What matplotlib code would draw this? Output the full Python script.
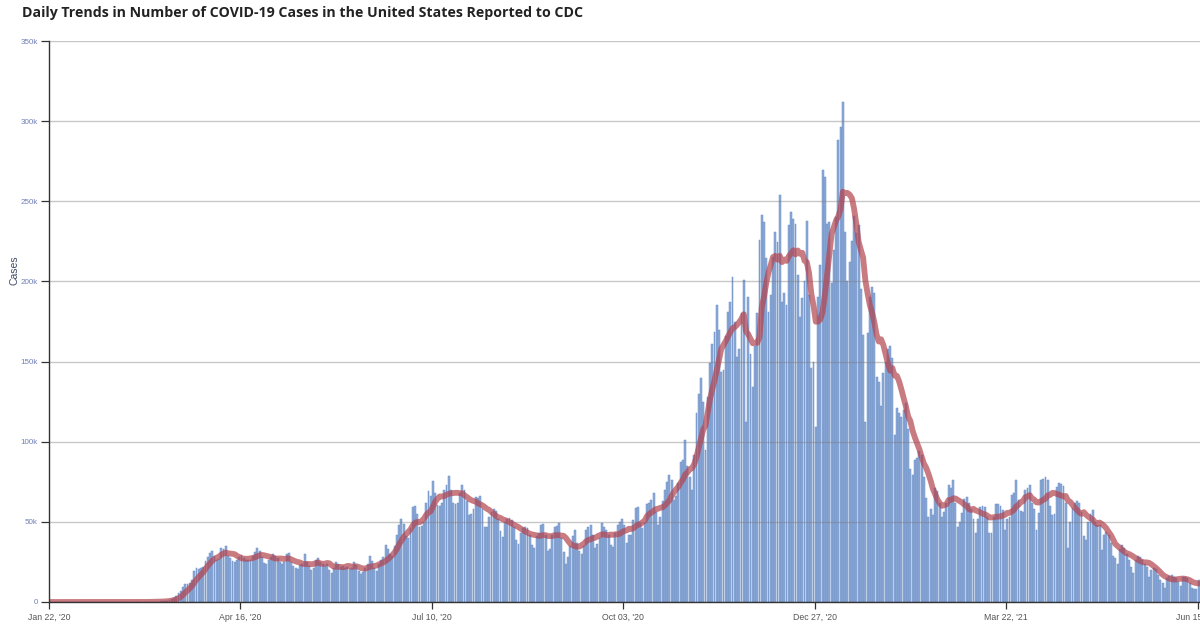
import matplotlib
matplotlib.use("Agg")
import matplotlib.pyplot as plt
import numpy as np
import pandas as pd

start_date = "2020-01-22"

# daily cases, thousands (rows of 7 days, Wed..Tue)
early_2020 = [0.0]*35 + [
    0.0, 0.0, 0.0, 0.0, 0.0, 0.0, 0.1,
    0.1, 0.1, 0.2, 0.1, 0.1, 0.2, 0.3,
    0.4, 0.6, 0.8, 0.9, 1.2, 1.8, 2.6,
]
wave1_2020 = [
    3.5, 5.5, 7.0, 9.5, 11.5, 11.0, 11.8,
    14.0, 19.6, 21.0, 20.5, 21.5, 22.0, 25.5,
    28.0, 30.8, 32.0, 28.7, 26.5, 27.0, 33.5,
    33.0, 35.0, 29.0, 27.5, 25.5, 25.0, 26.5,
    28.0, 29.5, 27.5, 26.5, 26.0, 26.5, 28.5,
    31.0, 33.5, 32.0, 28.0, 24.5, 24.0, 26.5,
    28.0, 30.0, 29.0, 27.5, 25.0, 23.5, 25.0,
    30.0, 30.6, 25.0, 22.5, 21.0, 20.5, 23.0,
    24.0, 30.0, 25.0, 22.5, 20.0, 21.5, 26.5,
    27.5, 25.0, 24.0, 22.5, 23.5, 20.0, 18.0,
    21.0, 25.0, 23.5, 22.0, 22.5, 21.5, 22.0,
]
summer_2020 = [
    20.5, 21.5, 25.0, 23.0, 19.5, 17.5, 19.0,
    21.5, 24.0, 29.0, 25.5, 21.0, 19.5, 23.5,
    26.5, 28.0, 35.6, 33.0, 30.0, 29.0, 35.0,
    41.8, 48.0, 51.5, 48.5, 41.0, 40.0, 46.0,
    59.0, 60.0, 55.0, 47.0, 47.5, 50.0, 62.0,
    69.0, 66.0, 75.5, 68.0, 60.5, 60.0, 62.0,
    70.0, 73.0, 78.8, 70.0, 62.0, 61.0, 62.0,
    68.0, 73.0, 70.0, 63.0, 54.0, 55.0, 58.0,
    65.7, 65.0, 66.0, 58.0, 47.0, 47.0, 53.0,
    56.0, 58.0, 57.0, 52.0, 44.0, 40.7, 50.0,
    52.0, 52.5, 51.0, 47.0, 38.7, 36.0, 43.0,
    46.0, 46.5, 46.0, 42.0, 35.6, 34.0, 41.0,
    43.0, 48.0, 48.5, 42.0, 32.0, 33.0, 41.6,
    47.0, 47.5, 49.0, 40.0, 31.0, 24.0, 28.0,
    35.0, 41.0, 45.0, 37.0, 32.0, 30.0, 35.0,
    45.0, 47.0, 48.0, 42.0, 33.5, 36.0, 40.0,
    49.0, 47.0, 45.0, 42.0, 35.6, 34.5, 43.0,
    48.0, 50.0, 52.0, 48.0, 37.0, 42.0, 42.0,
]
fall_winter = [
    51.0, 58.6, 59.5, 49.0, 46.0, 49.0, 61.0,
    62.0, 63.6, 68.0, 56.0, 48.0, 53.0, 63.0,
    70.0, 75.0, 79.0, 76.0, 63.6, 66.0, 74.0,
    87.5, 88.6, 101.0, 85.0, 78.0, 70.0, 92.0,
    118.0, 130.0, 140.0, 125.0, 95.0, 128.0, 149.0,
    161.0, 168.6, 185.0, 170.0, 143.7, 145.0, 166.0,
    181.0, 187.0, 202.6, 175.0, 153.0, 158.0, 180.0,
    201.0, 112.0, 190.0, 155.0, 134.0, 160.0, 180.0,
    226.0, 241.5, 237.0, 214.6, 181.0, 191.5, 215.0,
    231.0, 224.8, 254.0, 187.0, 192.7, 185.0, 235.0,
    243.5, 239.0, 236.0, 204.0, 178.0, 189.5, 200.0,
    238.0, 191.5, 146.0, 150.0, 109.0, 190.0, 210.0,
    269.5, 265.0, 236.0, 237.0, 199.0, 219.6, 240.0,
    288.0, 296.5, 311.7, 231.0, 200.0, 212.0, 225.0,
    241.0, 230.0, 235.0, 195.0, 166.6, 112.0, 168.0,
    190.0, 196.7, 193.0, 140.5, 137.0, 122.0, 142.7,
    150.0, 158.0, 160.0, 152.0, 104.0, 121.0, 118.0,
    115.6, 120.0, 124.0, 108.0, 83.0, 79.0, 88.6,
]
spring_2021 = [
    90.0, 94.0, 92.0, 78.0, 64.7, 53.0, 58.0,
    54.0, 71.0, 69.0, 62.0, 53.0, 56.0, 61.6,
    73.0, 71.0, 76.0, 61.6, 47.0, 50.0, 55.3,
    64.0, 65.7, 62.0, 58.0, 52.0, 42.8, 52.0,
    59.0, 60.0, 59.5, 53.0, 42.8, 42.8, 53.0,
    61.0, 61.0, 60.0, 57.4, 45.0, 52.0, 53.0,
    66.7, 68.0, 76.0, 63.6, 57.0, 56.0, 70.0,
    71.0, 73.0, 62.0, 58.0, 45.0, 55.3, 76.0,
    77.0, 78.0, 76.0, 60.0, 54.0, 55.0, 72.0,
    74.0, 73.5, 72.5, 62.0, 33.5, 50.0, 58.4,
    62.0, 63.0, 62.0, 56.0, 41.0, 38.7, 50.0,
    55.0, 57.4, 50.0, 48.0, 48.0, 32.4, 42.0,
    43.8, 42.0, 36.6, 29.0, 27.3, 24.0, 33.0,
    35.6, 34.0, 30.0, 26.0, 22.0, 18.0, 26.0,
    29.0, 28.0, 26.0, 24.0, 22.0, 15.8, 20.0,
    21.0, 20.5, 16.8, 14.0, 11.6, 8.5, 15.0,
    16.5, 17.0, 15.5, 14.8, 12.7, 10.0, 15.8,
    15.5, 14.8, 12.0, 8.5, 8.0, 8.3, 13.7,
]

y_ticks = [0, 50000, 100000, 150000, 200000, 250000, 300000, 350000]
y_tick_labels = ["0", "50k", "100k", "150k", "200k", "250k", "300k", "350k"]
x_tick_step = 85

title = "Daily Trends in Number of COVID-19 Cases in the United States Reported to CDC"

cases = np.array(early_2020 + wave1_2020 + summer_2020 + fall_winter + spring_2021) * 1000
dates = pd.date_range(start_date, periods=len(cases), freq="D")
series = pd.Series(cases, index=dates)
avg7 = series.rolling(7, min_periods=1).mean()

W, H = 1200, 630
fig = plt.figure(figsize=(W / 100, H / 100), dpi=100)
left_px, right_px, top_px, bottom_px = 49, 1200, 41, 602
ax = fig.add_axes([left_px / W, 1 - bottom_px / H, (right_px - left_px) / W, (bottom_px - top_px) / H])

x = np.arange(len(cases))
ax.bar(x + 0.5, cases, width=0.84, color="#8eabd6", edgecolor="#6a8dc6", linewidth=0.35, zorder=2)
ax.plot(x + 0.5, avg7.values, color="#b3434d", alpha=0.7, linewidth=4.2,
        solid_capstyle="round", solid_joinstyle="round", zorder=4)

ax.set_xlim(0, (right_px - left_px) / 2.252)
ax.set_ylim(0, 350000)

ax.set_yticks(y_ticks)
ax.set_yticklabels(y_tick_labels, fontsize=5.8, color="#6f7fb8", family="Liberation Sans")
ax.grid(axis="y", color="#7a7a7a", alpha=0.42, linewidth=1.0, zorder=3)
ax.set_axisbelow(False)

xt = np.arange(0, len(cases), x_tick_step)
ax.set_xticks(xt)
ax.set_xticklabels([dates[i].strftime("%b %d, '%y") for i in xt], fontsize=6.3,
                   color="#555555", family="Liberation Sans")
ax.tick_params(axis="y", length=6, width=0.9, color="#333333", pad=2)
ax.tick_params(axis="x", length=5, width=0.9, color="#333333", pad=3)

for s in ["top", "right"]:
    ax.spines[s].set_visible(False)
for s in ["left", "bottom"]:
    ax.spines[s].set_color("#333333")
    ax.spines[s].set_linewidth(1.0)
    ax.spines[s].set_zorder(5)

fig.text(22 / W, 1 - 13 / H, title, fontsize=10.2, fontweight="bold", family="Open Sans",
         color="#222222", ha="left", va="center")
fig.text(14 / W, 1 - 270 / H, "Cases", rotation=90, fontsize=7.5, color="#3d4a66",
         family="Liberation Sans", ha="center", va="center")

fig.savefig("out.png", dpi=100)
